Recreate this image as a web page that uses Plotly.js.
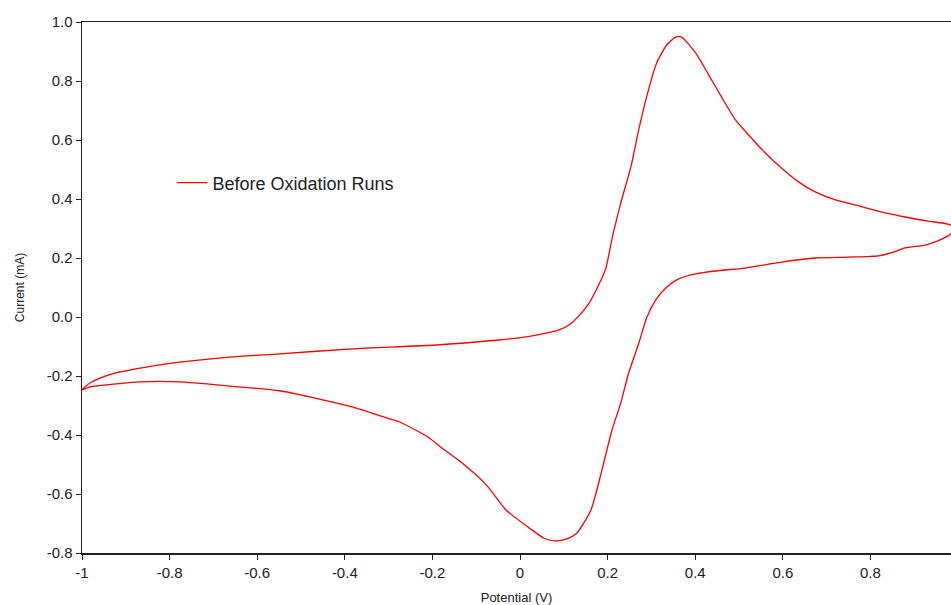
<!DOCTYPE html>
<html>
<head>
<meta charset="utf-8">
<script src="https://cdn.plot.ly/plotly-3.0.1.min.js"></script>
<style>html,body{margin:0;padding:0;background:#fff;}#chart{width:951px;height:605px;}</style>
</head>
<body>
<div id="chart"></div>
<script>
// Forward (oxidation) sweep: potential (V) and current (mA)
const forwardPotential = [-1.000,-0.982,-0.959,-0.925,-0.891,-0.834,-0.777,-0.663,-0.549,-0.383,-0.191,-0.048,-0.002,0.043,0.089,0.112,0.134,0.157,0.180,0.196,0.210,0.232,0.253,0.271,0.289,0.312,0.335,0.355,0.369,0.401,0.431,0.460,0.492,0.522,0.560,0.597,0.636,0.674,0.720,0.765,0.825,0.879,0.932,0.977,1.000];
const forwardCurrent   = [-0.247,-0.224,-0.207,-0.190,-0.180,-0.165,-0.153,-0.136,-0.125,-0.108,-0.095,-0.078,-0.071,-0.060,-0.044,-0.027,0.003,0.045,0.110,0.165,0.265,0.397,0.508,0.634,0.746,0.861,0.922,0.949,0.949,0.895,0.820,0.746,0.668,0.617,0.556,0.505,0.458,0.424,0.397,0.380,0.356,0.339,0.325,0.315,0.300];
// Reverse (reduction) sweep
const reversePotential = [1.000,0.977,0.954,0.925,0.879,0.847,0.818,0.749,0.674,0.597,0.544,0.515,0.446,0.401,0.362,0.333,0.310,0.289,0.271,0.248,0.230,0.210,0.187,0.162,0.130,0.107,0.082,0.055,0.021,-0.032,-0.077,-0.132,-0.173,-0.207,-0.230,-0.276,-0.305,-0.383,-0.458,-0.549,-0.663,-0.777,-0.868,-0.982,-1.000];
const reverseCurrent   = [0.300,0.275,0.258,0.244,0.234,0.217,0.207,0.203,0.200,0.186,0.173,0.166,0.156,0.146,0.129,0.098,0.058,-0.003,-0.090,-0.190,-0.292,-0.383,-0.519,-0.654,-0.732,-0.752,-0.759,-0.750,-0.715,-0.654,-0.569,-0.495,-0.450,-0.410,-0.390,-0.355,-0.342,-0.305,-0.278,-0.250,-0.234,-0.220,-0.220,-0.237,-0.247];

const seriesName = "Before Oxidation Runs";
const xTickVals = [-1,-0.8,-0.6,-0.4,-0.2,0,0.2,0.4,0.6,0.8];
const xTickText = ["-1","-0.8","-0.6","-0.4","-0.2","0","0.2","0.4","0.6","0.8"];
const yTickVals = [1.0,0.8,0.6,0.4,0.2,0.0,-0.2,-0.4,-0.6,-0.8];
const yTickText = ["1.0","0.8","0.6","0.4","0.2","0.0","-0.2","-0.4","-0.6","-0.8"];

const x = forwardPotential.concat(reversePotential);
const y = forwardCurrent.concat(reverseCurrent);

const font = "Liberation Sans, Arial, sans-serif";
const trace = {
  x: x, y: y, type: "scatter", mode: "lines", name: seriesName,
  line: {color: "#ff0000", width: 1.3, shape: "spline", smoothing: 0.6}, showlegend: true
};
const axisCommon = {
  showgrid: false, zeroline: false, showline: true, linecolor: "#222", linewidth: 1.5,
  ticks: "outside", ticklen: 5, tickwidth: 1, tickcolor: "#222",
  tickfont: {family: font, size: 15, color: "#222"}
};
const layout = {
  width: 951, height: 605,
  margin: {l: 82, r: 0, t: 22, b: 52},
  paper_bgcolor: "#fff", plot_bgcolor: "#fff",
  showlegend: true,
  legend: {x: 0.104, y: 0.697, xanchor: "left", yanchor: "middle", bgcolor: "rgba(0,0,0,0)",
           font: {family: font, size: 18, color: "#222"}},
  xaxis: Object.assign({}, axisCommon, {
    range: [-1, 0.984], tickvals: xTickVals, ticktext: xTickText, mirror: true,
    title: {text: "Potential (V)", font: {family: font, size: 13, color: "#222"}, standoff: 14}
  }),
  yaxis: Object.assign({}, axisCommon, {
    range: [-0.8, 1.0], tickvals: yTickVals, ticktext: yTickText,
    title: {text: "Current (mA)", font: {family: font, size: 12, color: "#222"}, standoff: 19}
  })
};
Plotly.newPlot("chart", [trace], layout, {displayModeBar: false, staticPlot: true});
</script>
</body>
</html>
